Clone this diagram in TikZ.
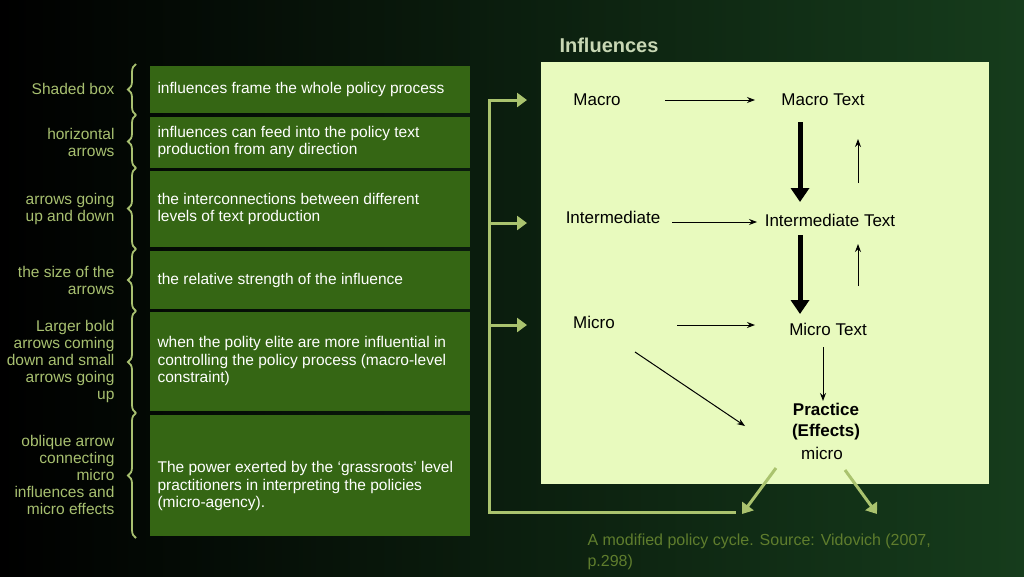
\documentclass[tikz,border=0pt]{standalone}
\usepackage{fontspec}
\setmainfont{Liberation Sans}
\usetikzlibrary{decorations.pathreplacing,arrows.meta}
\definecolor{boxg}{RGB}{53,102,20}
\definecolor{lab}{RGB}{168,192,112}
\definecolor{panel}{RGB}{232,250,190}
\definecolor{brk}{RGB}{170,195,110}
\definecolor{cap}{RGB}{95,125,45}
\begin{document}
\begin{tikzpicture}[x=1pt,y=-1pt,
  gbox/.style={fill=boxg,draw=none,anchor=north west,inner sep=0pt},
  gtext/.style={text=white,font=\fontsize{15.5}{17.5}\selectfont,align=left,anchor=west},
  ltext/.style={text=lab,font=\fontsize{15.5}{17}\selectfont,align=right,anchor=east},
  br/.style={draw=lab,line width=1.8pt,decorate,decoration={brace,amplitude=8pt}},
  itext/.style={text=black,font=\fontsize{17}{19}\selectfont},
  thin/.style={-{Stealth[length=8pt,width=6pt]},line width=1pt},
  thick/.style={-{Triangle[length=14pt,width=18pt]},line width=5pt},
  garr/.style={draw=brk,line width=3pt,-{Triangle[length=10pt,width=14pt]}}]
\useasboundingbox (0,0) rectangle (1024,576);
\shade[left color=black,right color={rgb,255:red,22;green,60;blue,28}] (0,0) rectangle (1024,576);
\node[text={rgb,255:red,200;green,215;blue,180},font=\bfseries\fontsize{20}{24}\selectfont] (title) at (609,45) {Influences};
% left boxes
\foreach \n/\t/\b in {r1/66/113,r2/117/168,r3/171/247,r4/251/309,r5/312/411,r6/415/536}{
  \fill[boxg] (150,\t) rectangle (470,\b);
}
\node[gtext] (t1) at (154,89) {influences frame the whole policy process};
\node[gtext] (t2) at (154,142) {influences can feed into the policy text\\production from any direction};
\node[gtext] (t3) at (154,209) {the interconnections between different\\levels of text production};
\node[gtext] (t4) at (154,280) {the relative strength of the influence};
\node[gtext] (t5) at (154,361) {when the polity elite are more influential in\\controlling the policy process (macro-level\\constraint)};
\node[gtext] (t6) at (154,486) {The power exerted by the ‘grassroots’ level\\practitioners in interpreting the policies\\(micro-agency).};
% labels
\node[ltext] (l1) at (118,89) {Shaded box};
\node[ltext] (l2) at (118,142) {horizontal\\arrows};
\node[ltext] (l3) at (118,209) {arrows going\\up and down};
\node[ltext] (l4) at (118,280) {the size of the\\arrows};
\node[ltext] (l5) at (118,361) {Larger bold\\arrows coming\\down and small\\arrows going\\up};
\node[ltext] (l6) at (118,475) {oblique arrow\\connecting\\micro\\influences and\\micro effects};
\foreach \a/\b in {115/64,168/115,249/168,311/249,413/311,538/413}{
  \draw[br] (136,\a) -- (136,\b);
}
% bracket
\coordinate (bt) at (489,99);
\coordinate (bb) at (489,512);
\coordinate (be) at (736,512);
\draw[brk,line width=3pt] (bt) -- (bb) -- (be);
\foreach \y/\n in {100/a1,223/a2,325/a3}{
  \coordinate (\n s) at (489,\y); \coordinate (\n e) at (527,\y);
  \draw[garr] (\n s) -- (\n e);
}
% panel
\fill[panel] (541,62) rectangle (989,484);
\node[itext] (macro) at (597,100) {Macro};
\node[itext] (macrot) at (823,100) {Macro Text};
\node[itext] (inter) at (613,217) {Intermediate};
\node[itext] (intert) at (830,220) {Intermediate Text};
\node[itext] (micro) at (594,322) {Micro};
\node[itext] (microt) at (828,329) {Micro Text};
\node[itext,align=center,font=\bfseries\fontsize{17}{21}\selectfont] (prac) at (826,422) {Practice\\(Effects)};
\node[itext] (pmicro) at (822,453) {micro};
\draw[thin] (665,100) -- (755,100);
\draw[thin] (672,222) -- (757,222);
\draw[thin] (677,325) -- (755,325);
\draw[thick] (800,122) -- (800,202);
\draw[thick] (800,235) -- (800,314);
\draw[thin] (858,183) -- (858,139);
\draw[thin] (858,286) -- (858,244);
\draw[thin] (823,347) -- (823,401);
\draw[thin] (635,352) -- (745,426);
\coordinate (g1s) at (776,468); \coordinate (g1e) at (742,514);
\coordinate (g2s) at (845,470); \coordinate (g2e) at (877,514);
\draw[garr] (g1s) -- (g1e);
\draw[garr] (g2s) -- (g2e);
\node[text=cap,font=\fontsize{16}{21}\selectfont,align=left,anchor=north west] (caption) at (584,530) {A modified policy cycle. Source: Vidovich (2007,\\p.298)};
\end{tikzpicture}
\end{document}
